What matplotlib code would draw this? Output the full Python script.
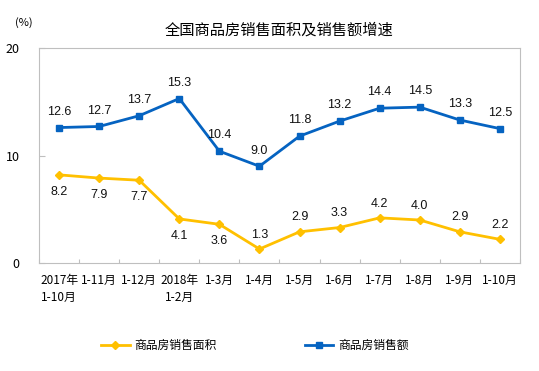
import matplotlib
matplotlib.use("Agg")
import matplotlib.pyplot as plt

plt.rcParams['font.family'] = ['Noto Sans CJK SC', 'DejaVu Sans']

# categories and values
months = ["2017年\n1-10月", "1-11月", "1-12月", "2018年\n1-2月", "1-3月", "1-4月",
          "1-5月", "1-6月", "1-7月", "1-8月", "1-9月", "1-10月"]
area = [8.2, 7.9, 7.7, 4.1, 3.6, 1.3, 2.9, 3.3, 4.2, 4.0, 2.9, 2.2]
amount = [12.6, 12.7, 13.7, 15.3, 10.4, 9.0, 11.8, 13.2, 14.4, 14.5, 13.3, 12.5]
area_label_below = [True, True, True, True, True, False, False, False, False, False, False, False]

yellow = "#FFC000"
blue = "#0563C1"
grey = "#BFBFBF"

fig = plt.figure(figsize=(5.39, 3.71), dpi=100)
ax = fig.add_axes([0.0724, 0.2911, 0.8923, 0.5795])

x = list(range(len(months)))
ax.plot(x, area, color=yellow, lw=2, marker="D", ms=4.5, label="商品房销售面积")
ax.plot(x, amount, color=blue, lw=2, marker="s", ms=5, label="商品房销售额")

num_font = ['Liberation Sans', 'DejaVu Sans']
for i in x:
    ax.annotate(f"{amount[i]:.1f}", (i, amount[i]), xytext=(0, 7), textcoords="offset points",
                ha="center", va="bottom", fontsize=9, family=num_font, color="#111111")
    if area_label_below[i]:
        ax.annotate(f"{area[i]:.1f}", (i, area[i]), xytext=(0, -8), textcoords="offset points",
                    ha="center", va="top", fontsize=9, family=num_font, color="#111111")
    else:
        ax.annotate(f"{area[i]:.1f}", (i, area[i]), xytext=(0, 6), textcoords="offset points",
                    ha="center", va="bottom", fontsize=9, family=num_font, color="#111111")

ax.set_xlim(-0.5, len(months) - 0.5)
ax.set_ylim(0, 20)
ax.set_yticks([0, 10, 20])
ax.set_xticks([i - 0.5 for i in range(len(months) + 1)])
ax.set_xticklabels([])
ax.set_xticks(x, minor=True)
ax.set_xticklabels(months, minor=True, fontsize=8.5, linespacing=1.4, va="top")
ax.tick_params(axis="x", which="major", direction="in", length=3, color=grey)
ax.tick_params(axis="x", which="minor", length=0, pad=8)
ax.tick_params(axis="y", direction="in", length=4, color=grey, labelsize=9, pad=14)
for s in ax.spines.values():
    s.set_color(grey)

ax.set_title("全国商品房销售面积及销售额增速", fontsize=11, pad=10)
fig.text(0.045, 0.94, "(%)", fontsize=8, ha="center", va="center")

fig.legend(loc="lower center", ncol=2, frameon=False, fontsize=8.5,
           bbox_to_anchor=(0.473, 0.022), columnspacing=7.5, handlelength=2.4,
           handletextpad=0.4, markerscale=0.8)

fig.savefig("out.png", dpi=100)
